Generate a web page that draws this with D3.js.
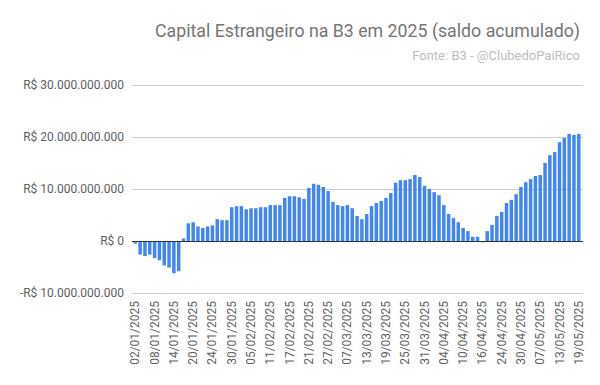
<!DOCTYPE html>
<html>
<head>
<meta charset="utf-8">
<script src="https://cdn.jsdelivr.net/npm/d3@7"></script>
<style>
  body { margin: 0; background: #fff; }
  svg { display: block; font-family: Roboto, "Noto Sans", sans-serif; }
</style>
</head>
<body>
<svg id="chart"></svg>
<script>
const width = 600;
const height = 385;

// pregões de 2025 (B3)
const dates = [
  "02/01","03/01","06/01","07/01","08/01","09/01","10/01","13/01","14/01","15/01","16/01","17/01",
  "20/01","21/01","22/01","23/01","24/01","27/01","28/01","29/01","30/01","31/01",
  "03/02","04/02","05/02","06/02","07/02","10/02","11/02","12/02","13/02","14/02",
  "17/02","18/02","19/02","20/02","21/02","24/02","25/02","26/02","27/02","28/02",
  "05/03","06/03","07/03","10/03","11/03","12/03","13/03","14/03","17/03","18/03","19/03",
  "20/03","21/03","24/03","25/03","26/03","27/03","28/03","31/03",
  "01/04","02/04","03/04","04/04","07/04","08/04","09/04","10/04","11/04","14/04","15/04",
  "16/04","17/04","22/04","23/04","24/04","25/04","28/04","29/04","30/04",
  "02/05","05/05","06/05","07/05","08/05","09/05","12/05","13/05","14/05","15/05","16/05","19/05"
].map(d => d + "/2025");

// saldo acumulado em bilhões de R$
const saldo = [
  -0.5, -2.6, -2.9, -2.6, -3.3, -3.7, -4.7, -5.1, -6.2, -5.8, 0.5, 3.4,
  3.6, 2.8, 2.5, 2.8, 3.0, 4.2, 4.0, 4.0, 6.5, 6.7,
  6.7, 6.1, 6.3, 6.3, 6.5, 6.5, 6.9, 6.9, 6.9, 8.3,
  8.6, 8.6, 8.4, 8.1, 10.2, 11.0, 10.8, 10.4, 9.6, 7.5,
  6.9, 6.7, 6.9, 6.3, 4.8, 4.2, 5.2, 6.7, 7.3, 7.7, 8.3,
  9.2, 11.2, 11.7, 11.7, 11.9, 12.7, 12.3, 10.6,
  10.0, 9.4, 8.8, 6.9, 5.2, 4.4, 3.6, 2.5, 1.9, 0.8, 0.8,
  -0.25, 1.9, 3.1, 4.8, 5.6, 7.3, 7.9, 9.0, 10.4,
  11.3, 11.9, 12.5, 12.7, 15.0, 16.5, 17.1, 19.0, 19.8, 20.6, 20.4, 20.6
].map(v => v * 1e9);

const yTicks = [-10e9, 0, 10e9, 20e9, 30e9];

const data = dates.map((d, i) => ({date: d, value: saldo[i]}));

let svg = d3.select("#chart")
  .attr("width", width)
  .attr("height", height);

const x = d3.scaleBand()
  .domain(dates)
  .range([132.9, 581.2])
  .paddingInner(0.28)
  .paddingOuter(0.14);

const y = d3.scaleLinear()
  .domain([-10e9, 30e9])
  .range([293, 85]);

const numFmt = d3.formatLocale({decimal: ",", thousands: ".", grouping: [3], currency: ["R$ ", ""]}).format(",.0f");
function moeda(v) {
  if (v === 0) return "R$ 0";
  return (v < 0 ? "-R$ " : "R$ ") + numFmt(Math.abs(v));
}

// grade
svg.append("g")
  .selectAll("line")
  .data(yTicks)
  .join("line")
  .attr("x1", 132)
  .attr("x2", 583)
  .attr("y1", d => Math.round(y(d)) + 0.5)
  .attr("y2", d => Math.round(y(d)) + 0.5)
  .attr("stroke", "#cccccc")
  .attr("stroke-width", 1);

// rótulos do eixo y
svg.append("g")
  .selectAll("text")
  .data(yTicks)
  .join("text")
  .attr("x", 124)
  .attr("y", d => y(d))
  .attr("dy", "0.35em")
  .attr("text-anchor", "end")
  .style("font-size", "12px")
  .style("fill", "#5f5f5f")
  .text(d => moeda(d));

// barras
svg.append("g")
  .selectAll("rect")
  .data(data)
  .join("rect")
  .attr("x", d => x(d.date))
  .attr("width", x.bandwidth())
  .attr("y", d => y(Math.max(0, d.value)))
  .attr("height", d => Math.abs(y(d.value) - y(0)))
  .attr("fill", "#4285f4");

// linha do zero
svg.append("line")
  .attr("x1", 132)
  .attr("x2", 583)
  .attr("y1", Math.round(y(0)) + 0.5)
  .attr("y2", Math.round(y(0)) + 0.5)
  .attr("stroke", "#333333")
  .attr("stroke-width", 1);

// rótulos do eixo x (a cada 4 pregões)
const xLabels = dates.filter((d, i) => i % 4 === 0);
svg.append("g")
  .selectAll("text")
  .data(xLabels)
  .join("text")
  .attr("transform", d => `translate(${x(d) + x.bandwidth() / 2 + 4}, 301) rotate(-90)`)
  .attr("text-anchor", "end")
  .style("font-size", "12px")
  .style("fill", "#5f5f5f")
  .text(d => d);

// títulos
svg.append("text")
  .attr("x", 580)
  .attr("y", 37)
  .attr("text-anchor", "end")
  .style("font-size", "17.75px")
  .style("fill", "#757575")
  .text("Capital Estrangeiro na B3 em 2025 (saldo acumulado)");

svg.append("text")
  .attr("x", 580)
  .attr("y", 60)
  .attr("text-anchor", "end")
  .style("font-size", "13px")
  .style("fill", "#bdbdbd")
  .text("Fonte: B3 - @ClubedoPaiRico");
</script>
</body>
</html>
